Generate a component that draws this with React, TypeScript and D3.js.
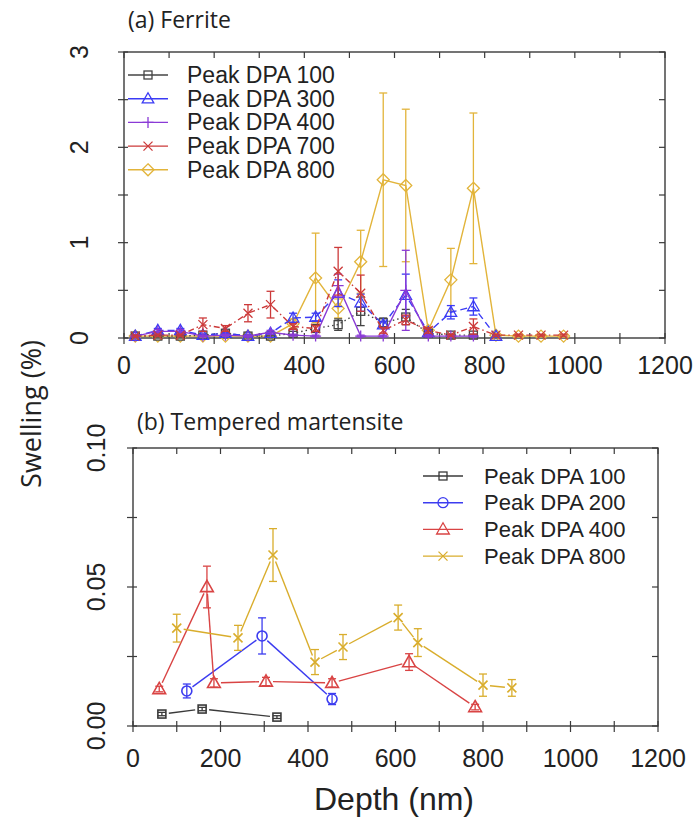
import React from 'react';
import * as d3 from 'd3';

// ---------- Panel (a) Ferrite ----------
const depthA = [25, 75, 125, 175, 225, 275, 325, 375, 425, 475, 525, 575, 625, 675, 725, 775, 825, 875, 925, 975];
const a100 = [0.02, 0.02, 0.02, 0.03, 0.05, 0.02, 0.02, 0.05, 0.10, 0.14, 0.28, 0.16, 0.22, 0.05, 0.03, 0.03, null, null, null, null];
const a100Err = [0.01, 0.01, 0.01, 0.01, 0.02, 0.01, 0.01, 0.02, 0.04, 0.06, 0.15, 0.05, 0.08, 0.02, 0.01, 0.01, null, null, null, null];
const a300 = [0.02, 0.08, 0.08, 0.03, 0.05, 0.02, 0.05, 0.21, 0.22, 0.47, 0.37, 0.14, 0.45, 0.06, 0.27, 0.33, 0.02, null, null, null];
const a300Err = [0.01, 0.02, 0.02, 0.01, 0.01, 0.01, 0.01, 0.05, 0.04, 0.14, 0.09, 0.03, 0.22, 0.02, 0.07, 0.09, 0.01, null, null, null];
const a400 = [0.02, 0.07, 0.07, 0.02, 0.03, 0.02, 0.06, 0.03, 0.02, 0.55, 0.02, 0.02, 0.50, 0.02, 0.02, 0.02, null, null, null, null];
const a400Err = [0.01, 0.02, 0.02, 0.01, 0.01, 0.01, 0.02, 0.01, 0.01, 0.12, 0.01, 0.01, 0.42, 0.01, 0.01, 0.01, null, null, null, null];
const a700 = [0.02, 0.03, 0.03, 0.14, 0.10, 0.26, 0.35, 0.12, 0.10, 0.70, 0.47, 0.08, 0.19, 0.08, 0.03, 0.12, 0.03, 0.03, 0.03, 0.03];
const a700Err = [0.01, 0.01, 0.01, 0.07, 0.03, 0.09, 0.14, 0.03, 0.03, 0.25, 0.19, 0.03, 0.05, 0.03, 0.01, 0.08, 0.01, 0.01, 0.01, 0.01];
const a800 = [0.02, 0.02, 0.02, 0.02, 0.02, 0.02, 0.02, 0.15, 0.63, 0.31, 0.80, 1.66, 1.60, 0.08, 0.61, 1.57, 0.03, 0.02, 0.02, 0.02];
const a800Err = [0.01, 0.01, 0.01, 0.01, 0.01, 0.01, 0.01, 0.05, 0.47, 0.10, 0.33, 0.91, 0.80, 0.03, 0.33, 0.79, 0.01, 0.01, 0.01, 0.01];
const legendA = ['Peak DPA 100', 'Peak DPA 300', 'Peak DPA 400', 'Peak DPA 700', 'Peak DPA 800'];

// ---------- Panel (b) Tempered martensite ----------
const depthB100 = [66, 158, 329];
const b100 = [0.0043, 0.0061, 0.0032];
const b100Err = [0.0006, 0.0006, 0.0005];
const depthB200 = [123, 295, 455];
const b200 = [0.0126, 0.0324, 0.0097];
const b200Err = [0.0025, 0.0065, 0.002];
const depthB400 = [60, 169, 185, 304, 455, 631, 782];
const b400 = [0.0133, 0.050, 0.0155, 0.016, 0.0155, 0.023, 0.0068];
const b400Err = [0.001, 0.0075, 0.0015, 0.0015, 0.0015, 0.003, 0.001];
const depthB800 = [100, 240, 320, 416, 480, 606, 651, 800, 866];
const b800 = [0.0352, 0.0317, 0.0615, 0.023, 0.0284, 0.039, 0.030, 0.0147, 0.0137];
const b800Err = [0.005, 0.0045, 0.0095, 0.0045, 0.0045, 0.0045, 0.005, 0.004, 0.003];
const legendB = ['Peak DPA 100', 'Peak DPA 200', 'Peak DPA 400', 'Peak DPA 800'];

const xTickVals = [0, 200, 400, 600, 800, 1000, 1200];

const FONT = "'Liberation Sans', Arial, sans-serif";
const TFONT = "'Open Sans', 'Noto Sans', sans-serif";
const AX = '#3a3a3a';

type Shape = 'square' | 'triangle' | 'plus' | 'cross' | 'diamond' | 'circle';

function Marker({ shape, x, y, s, color, sw = 1.3 }: { shape: Shape; x: number; y: number; s: number; color: string; sw?: number }) {
  const h = s / 2;
  let d = '';
  if (shape === 'square') return <rect x={x - h} y={y - h} width={s} height={s} fill="none" stroke={color} strokeWidth={sw} />;
  if (shape === 'circle') return <circle cx={x} cy={y} r={h} fill="none" stroke={color} strokeWidth={sw} />;
  if (shape === 'triangle') d = `M${x},${y - s * 0.6}L${x + s * 0.58},${y + s * 0.42}L${x - s * 0.58},${y + s * 0.42}Z`;
  if (shape === 'diamond') d = `M${x},${y - h}L${x + h},${y}L${x},${y + h}L${x - h},${y}Z`;
  if (shape === 'plus') d = `M${x - h},${y}H${x + h}M${x},${y - h}V${y + h}`;
  if (shape === 'cross') d = `M${x - h},${y - h}L${x + h},${y + h}M${x + h},${y - h}L${x - h},${y + h}`;
  return <path d={d} fill="none" stroke={color} strokeWidth={sw} />;
}

const xA = d3.scaleLinear().domain([0, 1200]).range([124, 665]);
const yA = d3.scaleLinear().domain([0, 3]).range([338, 52]);
const xB = d3.scaleLinear().domain([0, 1200]).range([133, 658]);
const yB = d3.scaleLinear().domain([0, 0.1]).range([726, 448]);

type SeriesA = { vals: (number | null)[]; err: (number | null)[]; color: string; shape: Shape; dash: string; size: number };

const seriesA: SeriesA[] = [
  { vals: a800, err: a800Err, color: '#e2b43a', shape: 'diamond', dash: '', size: 12 },
  { vals: a100, err: a100Err, color: '#444444', shape: 'square', dash: '1.5,3', size: 8 },
  { vals: a300, err: a300Err, color: '#3b3bf5', shape: 'triangle', dash: '7,4', size: 10 },
  { vals: a400, err: a400Err, color: '#8a3ad6', shape: 'plus', dash: '', size: 11 },
  { vals: a700, err: a700Err, color: '#cc3a3a', shape: 'cross', dash: '6,3,1.5,3', size: 9 },
];
const legendOrderA = [1, 2, 3, 4, 0];

type SeriesB = { xs: number[]; vals: number[]; err: number[]; color: string; shape: Shape; size: number };
const seriesB: SeriesB[] = [
  { xs: depthB100, vals: b100, err: b100Err, color: '#3a3a3a', shape: 'square', size: 8 },
  { xs: depthB200, vals: b200, err: b200Err, color: '#3c3cf0', shape: 'circle', size: 10 },
  { xs: depthB400, vals: b400, err: b400Err, color: '#d94444', shape: 'triangle', size: 11 },
  { xs: depthB800, vals: b800, err: b800Err, color: '#d9ad2c', shape: 'cross', size: 9 },
];

function Frame({ x, y, yTicksMajor, yTicksMinor, yFmt, yLabelX, xLabelY }: any) {
  const [x0, x1] = x.range();
  const [yb, yt] = y.range();
  const minorX = d3.range(0, 1201, 100);
  return (
    <g>
      <rect x={x0} y={yt} width={x1 - x0} height={yb - yt} fill="none" stroke={AX} strokeWidth={1.4} />
      {minorX.map((v: number) => (
        <g key={'xt' + v}>
          <line x1={x(v)} x2={x(v)} y1={yb - 5} y2={yb + 6} stroke={AX} strokeWidth={1.2} />
          <line x1={x(v)} x2={x(v)} y1={yt} y2={yt + 6} stroke={AX} strokeWidth={1.2} />
        </g>
      ))}
      {[...yTicksMajor, ...yTicksMinor].map((v: number) => (
        <g key={'yt' + v}>
          <line x1={x0 - 6} x2={x0 + 4} y1={y(v)} y2={y(v)} stroke={AX} strokeWidth={1.2} />
          <line x1={x1 - 6} x2={x1} y1={y(v)} y2={y(v)} stroke={AX} strokeWidth={1.2} />
        </g>
      ))}
      {xTickVals.map((v) => (
        <text key={'xl' + v} x={x(v)} y={xLabelY} textAnchor="middle" fontFamily={FONT} fontSize={25} fill="#222">
          {v}
        </text>
      ))}
      {yTicksMajor.map((v: number) => (
        <text
          key={'yl' + v}
          x={yLabelX}
          y={y(v)}
          textAnchor="middle"
          dominantBaseline="central"
          transform={`rotate(-90, ${yLabelX}, ${y(v)})`}
          fontFamily={FONT}
          fontSize={25}
          fill="#222"
        >
          {yFmt(v)}
        </text>
      ))}
    </g>
  );
}

export default function App() {
  const lineA = d3
    .line<[number, number | null]>()
    .defined((d) => d[1] !== null)
    .x((d) => xA(d[0]))
    .y((d) => yA(d[1] as number));

  const gap = 7;
  const segB = (s: SeriesB) => {
    const out: JSX.Element[] = [];
    for (let i = 0; i < s.xs.length - 1; i++) {
      const xa = xB(s.xs[i]), ya = yB(s.vals[i]);
      const xb = xB(s.xs[i + 1]), yb2 = yB(s.vals[i + 1]);
      const dx = xb - xa, dy = yb2 - ya;
      const L = Math.hypot(dx, dy);
      if (L < 2 * gap + 1) continue;
      const ux = dx / L, uy = dy / L;
      out.push(
        <line key={'s' + i} x1={xa + ux * gap} y1={ya + uy * gap} x2={xb - ux * gap} y2={yb2 - uy * gap} stroke={s.color} strokeWidth={1.4} />
      );
    }
    return out;
  };

  return (
    <svg width={699} height={821} style={{ position: 'absolute', left: 0, top: 0, background: '#fff' }}>
      <rect width={699} height={821} fill="#fff" />
      {/* Titles */}
      <text x={128} y={28} fontFamily={TFONT} fontSize={23} fill="#222">(a) Ferrite</text>
      <text x={137} y={430} fontFamily={TFONT} fontSize={23} fill="#222">(b) Tempered martensite</text>
      <text x={30} y={414} textAnchor="middle" dominantBaseline="central" transform="rotate(-90, 30, 414)" fontFamily={TFONT} fontSize={27} fill="#222">
        Swelling (%)
      </text>
      <text x={394} y={810} textAnchor="middle" fontFamily={FONT} fontSize={32} fill="#222">Depth (nm)</text>

      {/* Panel (a) */}
      <Frame x={xA} y={yA} yTicksMajor={[0, 1, 2, 3]} yTicksMinor={[0.5, 1.5, 2.5]} yFmt={(v: number) => String(v)} yLabelX={79} xLabelY={374} />
      {seriesA.map((s, si) => {
        const pts = depthA.map((d, i) => [d, s.vals[i]] as [number, number | null]);
        return (
          <g key={'sa' + si}>
            <path d={lineA(pts) || ''} fill="none" stroke={s.color} strokeWidth={1.4} strokeDasharray={s.dash} />
            {depthA.map((d, i) => {
              const v = s.vals[i];
              const e = s.err[i];
              if (v === null) return null;
              const cx = xA(d);
              const top = yA(v + (e || 0));
              const bot = yA(Math.max(0, v - (e || 0)));
              return (
                <g key={i}>
                  {e ? (
                    <g stroke={s.color} strokeWidth={1.3}>
                      <line x1={cx} x2={cx} y1={top} y2={bot} />
                      <line x1={cx - 4} x2={cx + 4} y1={top} y2={top} />
                      <line x1={cx - 4} x2={cx + 4} y1={bot} y2={bot} />
                    </g>
                  ) : null}
                  <Marker shape={s.shape} x={cx} y={yA(v)} s={s.size} color={s.color} />
                </g>
              );
            })}
          </g>
        );
      })}
      {/* Legend (a) */}
      {legendOrderA.map((si, k) => {
        const s = seriesA[si];
        const cy = 75 + k * 23.7;
        return (
          <g key={'la' + k}>
            <line x1={128} x2={168} y1={cy} y2={cy} stroke={s.color} strokeWidth={1.4} />
            <Marker shape={s.shape} x={148} y={cy} s={s.size} color={s.color} />
            <text x={187} y={cy} dominantBaseline="central" fontFamily={FONT} fontSize={23} fill="#222">
              {legendA[k]}
            </text>
          </g>
        );
      })}

      {/* Panel (b) */}
      <Frame x={xB} y={yB} yTicksMajor={[0, 0.05, 0.1]} yTicksMinor={[0.025, 0.075]} yFmt={(v: number) => d3.format('.2f')(v)} yLabelX={96} xLabelY={767} />
      {seriesB.map((s, si) => (
        <g key={'sb' + si}>
          {segB(s)}
          {s.xs.map((d, i) => {
            const cx = xB(d);
            const v = s.vals[i];
            const e = s.err[i];
            const top = yB(v + e);
            const bot = yB(v - e);
            return (
              <g key={i}>
                <g stroke={s.color} strokeWidth={1.3}>
                  <line x1={cx} x2={cx} y1={top} y2={bot} />
                  <line x1={cx - 4} x2={cx + 4} y1={top} y2={top} />
                  <line x1={cx - 4} x2={cx + 4} y1={bot} y2={bot} />
                </g>
                <Marker shape={s.shape} x={cx} y={yB(v)} s={s.size} color={s.color} sw={1.6} />
              </g>
            );
          })}
        </g>
      ))}
      {/* Legend (b) */}
      {seriesB.map((s, k) => {
        const cy = 476 + k * 26.7;
        return (
          <g key={'lb' + k}>
            <line x1={423} x2={463} y1={cy} y2={cy} stroke={s.color} strokeWidth={1.4} />
            <Marker shape={s.shape} x={443} y={cy} s={s.size} color={s.color} />
            <text x={484} y={cy} dominantBaseline="central" fontFamily={FONT} fontSize={22} fill="#222">
              {legendB[k]}
            </text>
          </g>
        );
      })}
    </svg>
  );
}
